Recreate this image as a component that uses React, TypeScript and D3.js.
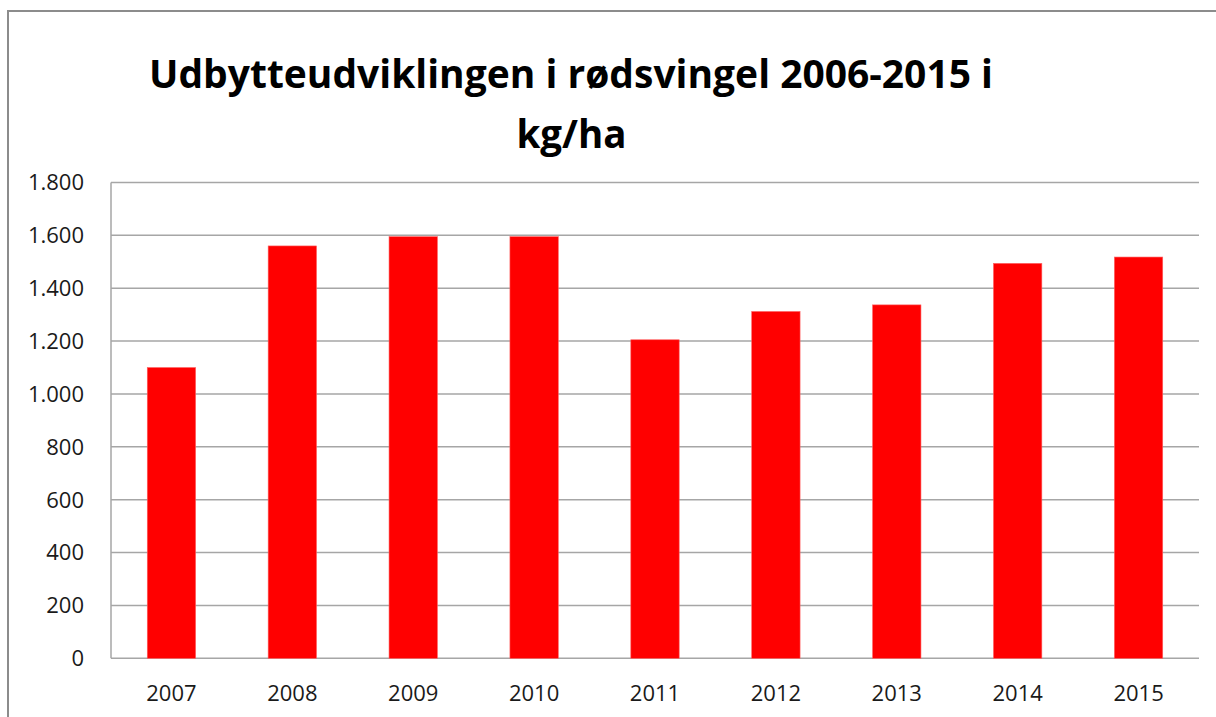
import * as d3 from 'd3';

const years = ['2007', '2008', '2009', '2010', '2011', '2012', '2013', '2014', '2015'];
const yields = [1100, 1560, 1595, 1595, 1205, 1312, 1337, 1494, 1518];
const yTicks = [0, 200, 400, 600, 800, 1000, 1200, 1400, 1600, 1800];
const titleLines = ['Udbytteudviklingen i rødsvingel 2006-2015 i', 'kg/ha'];

const W = 1216;
const H = 717;
const plot = { left: 111, right: 1199, top: 182.5, bottom: 658.3 };

const fmt = (v: number) => d3.format(',')(v).replace(/,/g, '.');

const App = () => {
  const x = d3
    .scaleBand<string>()
    .domain(years)
    .range([plot.left, plot.right])
    .paddingInner(0.6)
    .paddingOuter(0.3);

  const y = d3.scaleLinear().domain([0, 1800]).range([plot.bottom, plot.top]);

  const gridColor = '#a6a6a6';
  const font = '"Open Sans", "Liberation Sans", sans-serif';

  return (
    <svg
      width={W}
      height={H}
      viewBox={`0 0 ${W} ${H}`}
      style={{ position: 'absolute', left: 0, top: 0, display: 'block', background: '#fff' }}
    >
      {/* chart frame, runs off the right and bottom */}
      <rect x={8} y={11} width={W + 20} height={H + 20} fill="#fff" stroke="#8c8c8c" strokeWidth={2} />

      <g fontFamily={font} fontWeight={700} fill="#000" textAnchor="middle">
        <text x={571} y={88} fontSize={39} textLength={844} lengthAdjust="spacingAndGlyphs">
          {titleLines[0]}
        </text>
        <text x={571.5} y={148} fontSize={39} textLength={110} lengthAdjust="spacingAndGlyphs">
          {titleLines[1]}
        </text>
      </g>

      {/* gridlines */}
      {yTicks.map((t) => (
        <line
          key={t}
          x1={plot.left}
          x2={plot.right}
          y1={y(t)}
          y2={y(t)}
          stroke={gridColor}
          strokeWidth={1.5}
        />
      ))}
      <line x1={plot.left} x2={plot.left} y1={plot.top} y2={plot.bottom} stroke={gridColor} strokeWidth={1.5} />

      {/* bars */}
      {years.map((yr, i) => (
        <rect
          key={yr}
          x={x(yr)}
          y={y(yields[i])}
          width={x.bandwidth()}
          height={y(0) - y(yields[i])}
          fill="#ff0000"
          stroke="#ff6060"
          strokeWidth={0.6}
        />
      ))}

      {/* y labels */}
      <g fontFamily={font} fontSize={22} fill="#1a1a1a" textAnchor="end">
        {yTicks.map((t) => (
          <text key={t} x={84} y={y(t)} dy="0.36em">
            {fmt(t)}
          </text>
        ))}
      </g>

      {/* x labels */}
      <g fontFamily={font} fontSize={22} fill="#1a1a1a" textAnchor="middle">
        {years.map((yr) => (
          <text key={yr} x={(x(yr) ?? 0) + x.bandwidth() / 2} y={701}>
            {yr}
          </text>
        ))}
      </g>
    </svg>
  );
};

export default App;
